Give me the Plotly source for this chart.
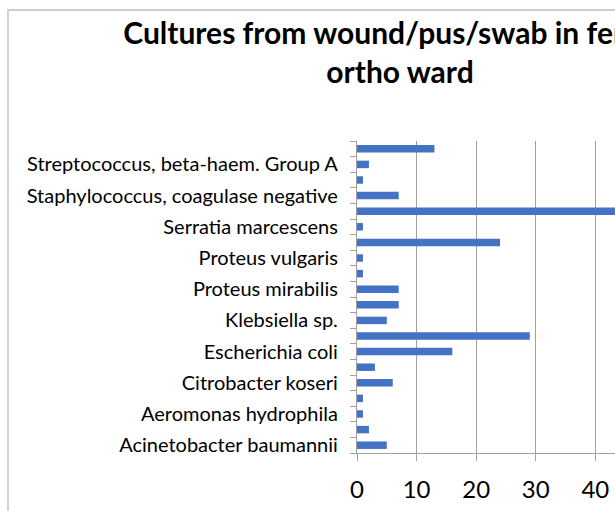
import plotly.graph_objects as go

title_text = "Cultures from wound/pus/swab in female<br>ortho ward"

categories = [
    "Acinetobacter baumannii",
    "Acinetobacter sp.",
    "Aeromonas hydrophila",
    "Citrobacter freundii",
    "Citrobacter koseri",
    "Enterobacter cloacae",
    "Escherichia coli",
    "Klebsiella pneumoniae",
    "Klebsiella sp.",
    "Morganella morganii",
    "Proteus mirabilis",
    "Proteus sp.",
    "Proteus vulgaris",
    "Pseudomonas aeruginosa",
    "Serratia marcescens",
    "Staphylococcus aureus",
    "Staphylococcus, coagulase negative",
    "Stenotrophomonas maltophilia",
    "Streptococcus, beta-haem. Group A",
    "Streptococcus, beta-haem. Group B",
]
counts = [5, 2, 1, 1, 6, 3, 16, 29, 5, 7, 7, 1, 1, 24, 1, 47, 7, 1, 2, 13]

x_ticks = [0, 10, 20, 30, 40]

tick_text = [c if i % 2 == 0 else "" for i, c in enumerate(categories)]

fig = go.Figure()
fig.add_trace(go.Bar(
    x=counts, y=categories, orientation="h",
    marker=dict(color="#4472C4", line=dict(width=0)),
    hoverinfo="x+y",
))

fig.update_layout(
    width=615, height=511,
    margin=dict(l=357, r=0, t=141, b=58),
    paper_bgcolor="white", plot_bgcolor="white",
    bargap=0.52,
    showlegend=False,
    title=dict(
        text=title_text,
        font=dict(family="Lato", size=30, color="black", weight="bold"),
        xref="paper", x=(400 - 357) / 258, xanchor="center",
        yref="container", y=1 - 44 / 511, yanchor="top",
    ),
    font=dict(family="Lato", color="black"),
)

fig.update_xaxes(
    range=[0, 43.3],
    tickvals=x_ticks,
    showgrid=True, gridcolor="#A0A0A0", gridwidth=1.3,
    showline=True, linecolor="#A0A0A0", linewidth=1.3,
    ticks="outside", ticklen=7, tickcolor="#A0A0A0", tickwidth=1.3,
    tickfont=dict(size=24, family="Lato", color="black"),
    ticklabelstandoff=8,
    zeroline=False,
)
fig.update_yaxes(
    type="category",
    categoryorder="array", categoryarray=categories,
    tickvals=categories, ticktext=tick_text,
    tickson="boundaries",
    showgrid=False,
    showline=True, linecolor="#A0A0A0", linewidth=1.3,
    ticks="outside", ticklen=6, tickcolor="#A0A0A0", tickwidth=1.3,
    tickfont=dict(size=20, family="Lato", color="black"),
    ticklabelstandoff=14,
    range=[-0.5, len(categories) - 0.5],
)

# chart-area border (cropped on right and bottom)
fig.add_shape(
    type="rect", xref="paper", yref="paper",
    x0=(8 - 357) / 258, x1=1.2,
    y0=-0.3, y1=(453 - 10) / 312,
    line=dict(color="#BFBFBF", width=1.3), fillcolor="rgba(0,0,0,0)",
    layer="below",
)

fig.write_html(
    "out.html",
    config={"displayModeBar": False},
    post_script="document.body.style.margin='0px';document.body.style.overflow='hidden';",
)
